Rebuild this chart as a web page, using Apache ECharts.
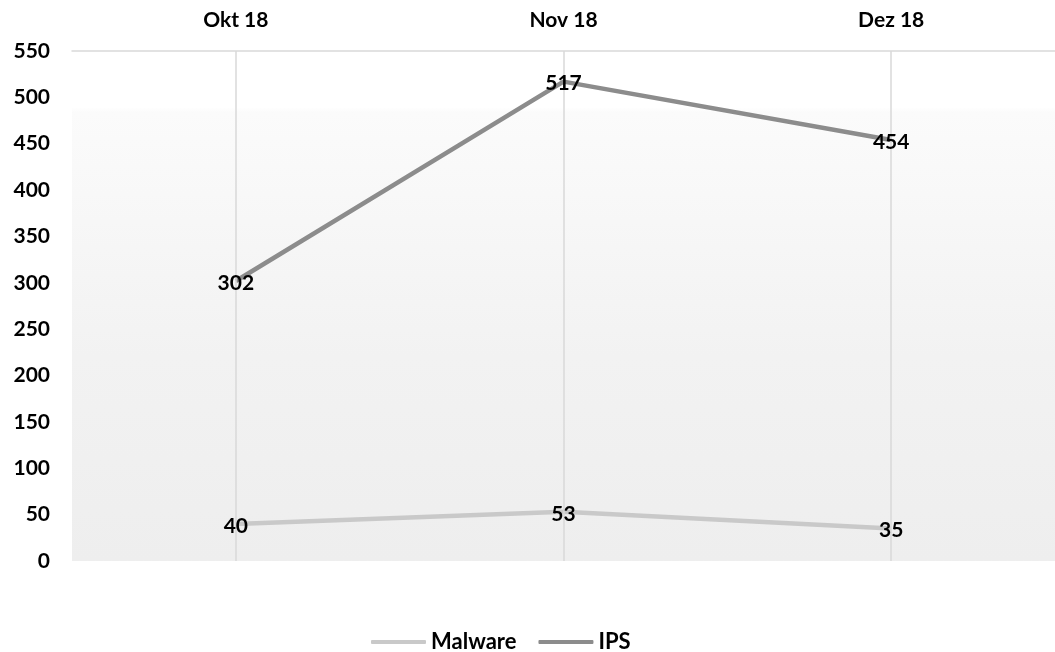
<!DOCTYPE html>
<html>
<head>
<meta charset="utf-8">
<script src="https://cdn.jsdelivr.net/npm/echarts@6/dist/echarts.min.js"></script>
<style>
  html, body { margin: 0; padding: 0; background: #ffffff; }
  #chart { width: 1055px; height: 652px; }
</style>
</head>
<body>
<div id="chart"></div>
<script>
// Monthly counts per detection type
const months = ['Okt 18', 'Nov 18', 'Dez 18'];
const malware = [40, 53, 35];
const ips = [302, 517, 454];
const yTicks = { min: 0, max: 550, step: 50 };

const FONT = 'Lato, "Open Sans", "Liberation Sans", sans-serif';
const chart = echarts.init(document.getElementById('chart'));

// Value labels, placed on each data point through the chart's coordinate system
function labelSeries(values) {
  return {
    type: 'custom',
    data: values.map((v, i) => [i, v]),
    silent: true,
    z: 10,
    renderItem: function (params, api) {
      const p = api.coord([api.value(0), api.value(1)]);
      return {
        type: 'text',
        x: p[0],
        y: p[1] + 2,
        z2: 100,
        style: {
          text: String(api.value(1)),
          fill: '#000000',
          font: 'bold 21px ' + FONT,
          align: 'center',
          verticalAlign: 'middle',
          textAlign: 'center',
          textVerticalAlign: 'middle'
        }
      };
    }
  };
}

chart.setOption({
  animation: false,
  grid: {
    left: 72,
    top: 51,
    width: 987,
    height: 510,
    show: true,
    borderWidth: 0,
    backgroundColor: {
      type: 'linear', x: 0, y: 0, x2: 0, y2: 1,
      colorStops: [
        { offset: 0, color: '#ffffff' },
        { offset: 0.11, color: '#ffffff' },
        { offset: 0.12, color: '#fbfbfb' },
        { offset: 0.6, color: '#f2f2f2' },
        { offset: 1, color: '#eeeeee' }
      ]
    }
  },
  legend: {
    top: 626,
    left: 366,
    itemWidth: 55,
    itemHeight: 4,
    itemGap: 22,
    icon: 'roundRect',
    textStyle: { fontFamily: FONT, fontWeight: 'bold', fontSize: 22, color: '#000000' },
    data: ['Malware', 'IPS']
  },
  xAxis: {
    type: 'category',
    position: 'top',
    data: months,
    boundaryGap: true,
    axisLine: { show: true, onZero: false, lineStyle: { color: '#d9d9d9', width: 1.5 } },
    axisTick: { show: false },
    splitLine: { show: false },
    axisLabel: { margin: 20, color: '#000000', fontFamily: FONT, fontWeight: 'bold', fontSize: 21 }
  },
  yAxis: {
    type: 'value',
    min: yTicks.min,
    max: yTicks.max,
    interval: yTicks.step,
    axisLine: { show: false },
    axisTick: { show: false },
    splitLine: { show: false },
    axisLabel: { margin: 22, color: '#000000', fontFamily: FONT, fontWeight: 'bold', fontSize: 21 }
  },
  series: [
    {
      name: 'Malware',
      type: 'line',
      data: malware,
      symbol: 'none',
      lineStyle: { color: '#c9c9c9', width: 4.5 },
      itemStyle: { color: '#c9c9c9' },
      z: 3,
      markLine: {
        silent: true,
        symbol: 'none',
        label: { show: false },
        lineStyle: { color: '#d9d9d9', width: 1.5, type: 'solid' },
        data: months.map(m => ({ xAxis: m }))
      }
    },
    {
      name: 'IPS',
      type: 'line',
      data: ips,
      symbol: 'none',
      lineStyle: { color: '#8c8c8c', width: 4.5 },
      itemStyle: { color: '#8c8c8c' },
      z: 4
    },
    labelSeries(malware),
    labelSeries(ips)
  ]
});
</script>
</body>
</html>
